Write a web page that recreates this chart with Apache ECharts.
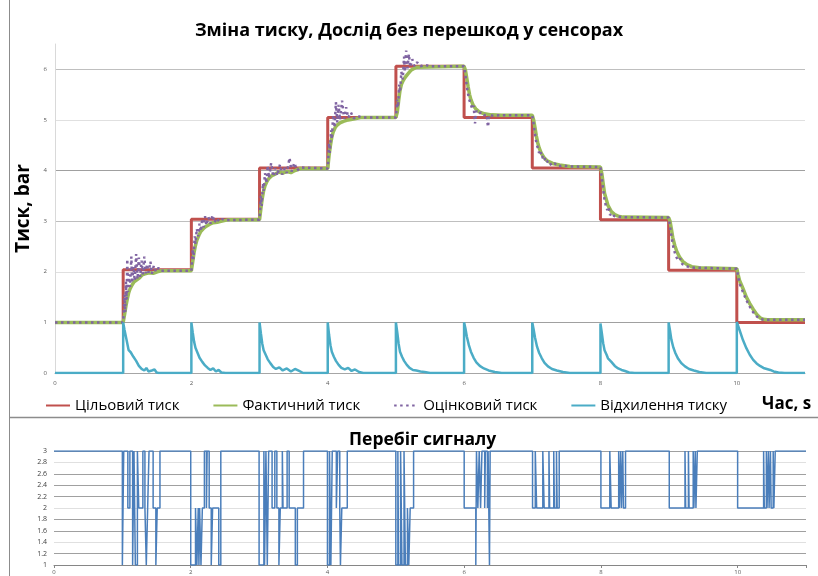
<!DOCTYPE html>
<html>
<head>
<meta charset="utf-8">
<title>Зміна тиску</title>
<script src="https://cdn.jsdelivr.net/npm/echarts@6/dist/echarts.min.js"></script>
<style>
	html, body { margin: 0; padding: 0; background: #fff; }
	#chart { width: 818px; height: 576px; }
</style>
</head>
<body>
<div id="chart"></div>
<script>
/* texts */
var chartTitle = "Зміна тиску, Дослід без перешкод у сенсорах";
var signalTitle = "Перебіг сигналу";
var yName = "Тиск, bar";
var xName = "Час, s";
var legendNames = ["Цільовий тиск", "Фактичний тиск", "Оцінковий тиск", "Відхилення тиску"];

/* цільовий тиск: [час, значення], малюється сходинками */
var targetData = [[0,1],[1,2.04],[2,3.04],[3,4.05],[4,5.05],[5,6.06],[6,5.05],[7,4.05],[8,3.03],[9,2.03],[10,1.0],[11,1.0]];

/* фактичний тиск */
var actualData = [
	[0,1.00],[1.00,1.00],[1.02,1.15],[1.04,1.32],[1.06,1.46],[1.08,1.58],[1.10,1.66],[1.13,1.74],[1.16,1.80],[1.20,1.84],[1.24,1.88],[1.28,1.94],[1.32,1.96],[1.38,1.98],[1.44,1.97],[1.50,2.00],[1.56,2.02],
	[2.00,2.02],[2.02,2.20],[2.04,2.38],[2.06,2.52],[2.08,2.62],[2.11,2.72],[2.14,2.80],[2.18,2.86],[2.22,2.90],[2.27,2.94],[2.32,2.97],[2.38,2.98],[2.45,3.00],[2.55,3.03],
	[3.00,3.03],[3.02,3.25],[3.04,3.45],[3.06,3.60],[3.08,3.70],[3.11,3.79],[3.14,3.85],[3.18,3.90],[3.23,3.93],[3.28,3.97],[3.34,3.95],[3.40,3.98],[3.46,3.96],[3.52,4.00],[3.60,4.04],
	[4.00,4.04],[4.02,4.30],[4.04,4.50],[4.06,4.66],[4.08,4.76],[4.11,4.85],[4.14,4.90],[4.18,4.94],[4.23,4.97],[4.30,5.00],[4.38,5.02],[4.50,5.05],
	[5.00,5.05],[5.02,5.15],[5.04,5.38],[5.06,5.58],[5.08,5.70],[5.10,5.76],[5.13,5.83],[5.17,5.90],[5.22,5.98],[5.30,6.04],
	[6.00,6.06],[6.02,5.98],[6.04,5.82],[6.06,5.65],[6.08,5.50],[6.10,5.40],[6.13,5.30],[6.17,5.22],[6.22,5.16],[6.30,5.12],[6.40,5.10],[6.55,5.09],
	[7.00,5.09],[7.02,5.00],[7.04,4.85],[7.06,4.68],[7.08,4.55],[7.10,4.45],[7.13,4.35],[7.17,4.26],[7.22,4.19],[7.30,4.14],[7.40,4.11],[7.55,4.08],
	[8.00,4.07],[8.02,3.94],[8.04,3.74],[8.06,3.55],[8.09,3.41],[8.11,3.31],[8.16,3.19],[8.21,3.13],[8.26,3.10],[8.33,3.08],
	[9.00,3.07],[9.02,3.00],[9.04,2.85],[9.06,2.68],[9.09,2.52],[9.12,2.40],[9.16,2.29],[9.21,2.20],[9.27,2.14],[9.34,2.10],[9.45,2.08],
	[10.00,2.06],[10.02,1.94],[10.04,1.83],[10.09,1.67],[10.14,1.50],[10.19,1.37],[10.24,1.26],[10.29,1.16],[10.34,1.09],[10.39,1.06],[10.45,1.05],[11.00,1.05]
];

/* оцінковий тиск (шумить після кожної сходинки) */
var estimateData = [
	[0,1.00],[1.00,1.00],[1.02,1.55],[1.03,1.20],[1.04,1.80],[1.05,1.45],[1.06,2.25],[1.07,1.60],[1.08,1.95],[1.10,1.70],[1.12,2.30],[1.13,1.78],[1.15,2.10],[1.17,1.82],[1.19,2.35],[1.21,1.85],[1.23,2.28],[1.25,1.90],[1.27,2.22],[1.29,1.95],[1.31,2.30],[1.33,1.97],[1.35,2.15],[1.37,1.98],[1.40,2.20],[1.42,1.96],[1.45,2.12],[1.48,2.00],[1.52,2.08],[1.56,2.02],
	[2.00,2.02],[2.02,2.45],[2.03,2.25],[2.05,2.70],[2.06,2.55],[2.08,2.85],[2.10,2.70],[2.12,2.95],[2.14,2.80],[2.16,3.05],[2.18,2.88],[2.20,3.10],[2.22,2.92],[2.25,3.08],[2.28,2.95],[2.31,3.12],[2.34,2.97],[2.37,3.06],[2.41,2.99],[2.45,3.04],[2.50,3.02],
	[3.00,3.03],[3.02,3.50],[3.03,3.30],[3.05,3.75],[3.06,3.60],[3.08,3.95],[3.10,3.75],[3.12,4.10],[3.14,3.85],[3.17,4.15],[3.20,3.88],[3.23,4.05],[3.26,3.90],[3.30,4.12],[3.33,3.92],[3.37,4.05],[3.40,3.95],[3.44,4.25],[3.47,3.98],[3.51,4.15],[3.55,4.00],[3.60,4.06],
	[4.00,4.04],[4.02,4.55],[4.03,4.35],[4.05,4.80],[4.06,4.62],[4.08,5.10],[4.10,4.85],[4.12,5.35],[4.14,4.95],[4.16,5.30],[4.18,5.00],[4.21,5.38],[4.24,5.02],[4.27,5.25],[4.30,5.04],[4.34,5.15],[4.38,5.03],[4.43,5.08],[4.50,5.05],
	[5.00,5.05],[5.02,5.40],[5.03,5.25],[5.05,5.70],[5.06,5.55],[5.08,5.95],[5.10,5.80],[5.12,6.25],[5.13,5.95],[5.15,6.37],[5.17,6.02],[5.19,6.30],[5.21,6.04],[5.24,6.20],[5.27,6.06],[5.31,6.14],[5.36,6.06],[5.42,6.09],[5.50,6.06],
	[6.00,6.06],[6.02,5.88],[6.04,5.66],[6.06,5.50],[6.08,5.38],[6.10,5.30],[6.12,5.22],[6.14,5.28],[6.16,4.93],[6.18,5.18],[6.21,5.12],[6.25,5.15],[6.29,5.09],[6.33,5.11],[6.35,4.86],[6.37,5.10],[6.43,5.08],[6.50,5.09],
	[7.00,5.09],[7.02,4.92],[7.04,4.72],[7.06,4.55],[7.08,4.45],[7.10,4.35],[7.12,4.40],[7.14,4.25],[7.17,4.30],[7.20,4.15],[7.24,4.20],[7.28,4.10],[7.33,4.14],[7.38,4.08],[7.45,4.10],[7.55,4.08],
	[8.00,4.07],[8.02,3.85],[8.04,3.62],[8.06,3.42],[8.08,3.30],[8.10,3.22],[8.12,3.28],[8.14,3.12],[8.17,3.16],[8.20,3.10],[8.25,3.09],[8.32,3.08],
	[9.00,3.07],[9.02,2.90],[9.04,2.72],[9.06,2.55],[9.08,2.42],[9.11,2.30],[9.14,2.22],[9.17,2.26],[9.20,2.15],[9.25,2.12],[9.30,2.09],[9.38,2.08],
	[10.00,2.06],[10.02,1.90],[10.04,1.77],[10.09,1.60],[10.14,1.44],[10.19,1.31],[10.24,1.20],[10.29,1.12],[10.34,1.07],[10.40,1.05],[11.00,1.05]
];

/* відхилення тиску */
var deviationData = [
	[0,0],[1.00,0],[1.00,1.00],[1.02,0.85],[1.05,0.65],[1.08,0.45],[1.11,0.41],[1.13,0.38],[1.15,0.32],[1.19,0.24],[1.23,0.14],[1.27,0.08],[1.31,0.05],[1.34,0.10],[1.37,0.03],[1.42,0.05],[1.46,0.07],[1.49,0.01],[1.52,0],
	[2.00,0],[2.00,1.00],[2.02,0.80],[2.04,0.62],[2.06,0.50],[2.09,0.40],[2.12,0.30],[2.16,0.22],[2.20,0.15],[2.24,0.10],[2.28,0.06],[2.32,0.09],[2.36,0.03],[2.40,0.06],[2.44,0.01],[2.50,0],
	[3.00,0],[3.00,1.00],[3.02,0.78],[3.04,0.58],[3.06,0.45],[3.09,0.36],[3.12,0.27],[3.16,0.19],[3.20,0.12],[3.24,0.08],[3.29,0.11],[3.34,0.05],[3.40,0.09],[3.46,0.03],[3.52,0.08],[3.58,0.04],[3.64,0],
	[4.00,0],[4.00,1.00],[4.02,0.75],[4.04,0.55],[4.06,0.42],[4.09,0.32],[4.12,0.24],[4.16,0.16],[4.20,0.10],[4.25,0.07],[4.30,0.10],[4.35,0.04],[4.40,0.07],[4.46,0.02],[4.52,0],
	[5.00,0],[5.00,1.00],[5.02,0.80],[5.04,0.58],[5.06,0.42],[5.09,0.32],[5.12,0.24],[5.16,0.16],[5.20,0.10],[5.25,0.06],[5.30,0.05],[5.36,0.03],[5.42,0.02],[5.50,0],
	[6.00,0],[6.00,1.00],[6.02,0.88],[6.04,0.72],[6.07,0.55],[6.10,0.42],[6.14,0.30],[6.18,0.21],[6.23,0.14],[6.29,0.09],[6.36,0.05],[6.45,0.02],[6.55,0],
	[7.00,0],[7.00,1.00],[7.02,0.86],[7.04,0.70],[7.07,0.52],[7.10,0.40],[7.14,0.29],[7.18,0.20],[7.23,0.13],[7.29,0.08],[7.36,0.05],[7.45,0.02],[7.55,0],
	[8.00,0],[8.00,0.98],[8.02,0.79],[8.04,0.59],[8.06,0.45],[8.09,0.36],[8.11,0.29],[8.16,0.22],[8.21,0.14],[8.26,0.09],[8.31,0.06],[8.36,0.04],[8.42,0.01],[8.50,0],
	[9.00,0],[9.00,1.00],[9.02,0.84],[9.04,0.66],[9.07,0.50],[9.10,0.39],[9.14,0.28],[9.19,0.19],[9.24,0.13],[9.30,0.08],[9.37,0.05],[9.45,0.02],[9.55,0],
	[10.00,0],[10.00,1.01],[10.04,0.85],[10.09,0.65],[10.14,0.49],[10.19,0.36],[10.24,0.26],[10.29,0.19],[10.34,0.14],[10.39,0.10],[10.44,0.08],[10.49,0.06],[10.54,0.03],[10.61,0.01],[10.70,0],[11.00,0]
];

/* перебіг сигналу: [час, рівень], сходинками */
var signalData = [
	[0,3],
	[1.00,1],[1.02,3],[1.08,2],[1.11,3],[1.15,1],[1.17,3],[1.19,1],[1.22,3],[1.24,2],[1.30,3],[1.33,2],[1.35,1],[1.37,2],[1.39,3],[1.45,2],[1.49,1],[1.51,2],[1.55,3],
	[2.00,1],[2.07,2],[2.09,1],[2.11,2],[2.12,1],[2.13,2],[2.15,1],[2.17,2],[2.20,3],[2.23,2],[2.24,3],[2.27,2],[2.30,1],[2.32,2],[2.41,1],[2.44,3],
	[3.00,1],[3.07,3],[3.08,1],[3.10,3],[3.12,1],[3.14,3],[3.19,2],[3.23,3],[3.26,2],[3.29,1],[3.31,2],[3.34,3],[3.35,2],[3.41,3],[3.44,2],[3.53,1],[3.56,2],[3.65,3],
	[4.00,1],[4.03,3],[4.05,1],[4.07,3],[4.13,2],[4.15,3],[4.18,2],[4.19,1],[4.21,2],[4.29,3],
	[5.00,1],[5.03,3],[5.04,1],[5.07,3],[5.09,1],[5.12,3],[5.14,1],[5.17,2],[5.19,1],[5.21,2],[5.26,3],
	[6.00,2],[6.17,1],[6.18,3],[6.20,2],[6.22,3],[6.24,2],[6.26,3],[6.30,2],[6.31,3],[6.34,2],[6.35,3],[6.37,1],[6.38,3],
	[7.00,2],[7.04,3],[7.06,2],[7.15,3],[7.17,2],[7.24,3],[7.25,2],[7.31,3],[7.32,2],[7.35,3],[7.36,2],[7.39,3],
	[8.00,2],[8.13,3],[8.15,2],[8.26,3],[8.27,2],[8.29,3],[8.30,2],[8.32,3],[8.33,2],[8.36,3],
	[9.00,2],[9.23,3],[9.24,2],[9.28,3],[9.29,2],[9.35,3],[9.36,2],[9.38,3],[9.39,2],[9.41,3],
	[10.00,2],[10.38,3],[10.39,2],[10.42,3],[10.43,2],[10.45,3],[10.46,2],[10.48,3],[10.49,2],[10.52,3],[10.53,2],[10.55,3],[11.00,3]
];

var FONT = '"Open Sans", "Noto Sans", sans-serif';
var COLORS = ["#c0504d", "#9bbb59", "#8064a2", "#4bacc6"];

// тільки парні секунди підписуємо
var timeLabel = function(v){
	return (v % 2 === 0) ? v : "";
};

var chart = echarts.init(document.getElementById("chart"));

var option = {
	animation: false,
	backgroundColor: "#fff",
	textStyle: { fontFamily: FONT },
	title: [
		{ text: chartTitle, left: "center", top: 17, textStyle: { fontFamily: FONT, fontSize: 18, fontWeight: "bold", color: "#000" } },
		{ text: signalTitle, left: 344, top: 426, textStyle: { fontFamily: FONT, fontSize: 17.5, fontWeight: "bold", color: "#000" } },
		{ text: xName, left: 757, top: 391, textStyle: { fontFamily: FONT, fontSize: 17, fontWeight: "bold", color: "#000" } }
	],
	legend: {
		data: legendNames,
		left: 40,
		top: 393,
		itemWidth: 24,
		itemHeight: 12,
		itemGap: 33,
		itemStyle: { opacity: 0 },
		textStyle: { fontFamily: FONT, fontSize: 15, color: "#000" }
	},
	graphic: [
		{ type: "line", shape: { x1: 9.5, y1: 0, x2: 9.5, y2: 576 }, style: { stroke: "#8c8c8c", lineWidth: 1 } },
		{ type: "line", shape: { x1: 10, y1: 417.5, x2: 818, y2: 417.5 }, style: { stroke: "#8c8c8c", lineWidth: 1.5 } }
	],
	grid: [
		{ left: 55, right: 13, top: 44, bottom: 203 },
		{ left: 54, right: 12, top: 451, bottom: 11 }
	],
	xAxis: [
		{
			gridIndex: 0, type: "value", min: 0, max: 11, interval: 2,
			axisLine: { lineStyle: { color: "#a6a6a6", width: 1 } },
			axisTick: { show: false },
			splitLine: { show: false },
			axisLabel: { fontSize: 6, color: "#595959", margin: 7, formatter: timeLabel }
		},
		{
			gridIndex: 1, type: "value", min: 0, max: 11, interval: 2,
			axisLine: { lineStyle: { color: "#868686", width: 1 } },
			axisTick: { show: true, length: 3, lineStyle: { color: "#868686" } },
			splitLine: { show: false },
			axisLabel: { fontSize: 6, color: "#595959", margin: 4, formatter: timeLabel }
		}
	],
	yAxis: [
		{
			gridIndex: 0, type: "value", min: 0, max: 6.5, interval: 1,
			name: yName, nameLocation: "middle", nameGap: 14,
			nameTextStyle: { fontFamily: FONT, fontSize: 19, fontWeight: "bold", color: "#000" },
			axisLine: { show: true, lineStyle: { color: "#d9d9d9" } },
			axisTick: { show: false },
			axisLabel: { fontSize: 6, color: "#595959", margin: 8, formatter: function(v){ return (v % 1 === 0) ? v : ""; } },
			splitLine: { show: true, showMaxLine: false, lineStyle: { color: ["#bfbfbf", "#a0a0a0", "#e0e0e0"], width: 1 } }
		},
		{
			gridIndex: 1, type: "value", min: 1, max: 3, interval: 0.2,
			axisLine: { show: false },
			axisTick: { show: false },
			axisLabel: { fontSize: 7, color: "#404040", margin: 7 },
			splitLine: { show: true, lineStyle: { color: ["#a0a0a0", "#a0a0a0", "#e0e0e0", "#a0a0a0", "#a0a0a0", "#e0e0e0", "#a0a0a0", "#a0a0a0", "#a0a0a0", "#e0e0e0", "#a0a0a0"], width: 1 } }
		}
	],
	series: [
		{
			name: legendNames[0], type: "line", xAxisIndex: 0, yAxisIndex: 0,
			data: targetData, step: "end", symbol: "none",
			lineStyle: { color: COLORS[0], width: 3 }, itemStyle: { color: COLORS[0] }
		},
		{
			name: legendNames[1], type: "line", xAxisIndex: 0, yAxisIndex: 0,
			data: actualData, symbol: "none",
			lineStyle: { color: COLORS[1], width: 3.5 }, itemStyle: { color: COLORS[1] }
		},
		{
			name: legendNames[2], type: "line", xAxisIndex: 0, yAxisIndex: 0,
			data: estimateData, symbol: "none",
			lineStyle: { color: COLORS[2], width: 2.5, type: [2.5, 3.5] }, itemStyle: { color: COLORS[2] }
		},
		{
			name: legendNames[3], type: "line", xAxisIndex: 0, yAxisIndex: 0,
			data: deviationData, symbol: "none",
			lineStyle: { color: COLORS[3], width: 2.5 }, itemStyle: { color: COLORS[3] }
		},
		{
			name: "signal", type: "line", xAxisIndex: 1, yAxisIndex: 1,
			data: signalData, step: "end", symbol: "none",
			lineStyle: { color: "#4a7ebb", width: 1.5 }
		}
	]
};

chart.setOption(option);
</script>
</body>
</html>
